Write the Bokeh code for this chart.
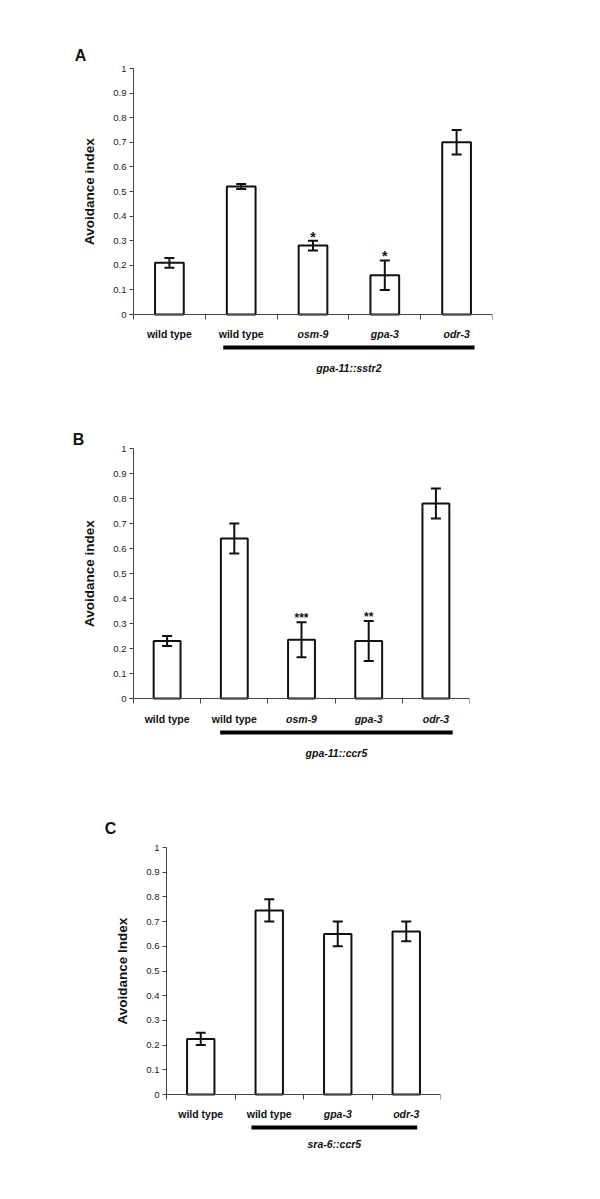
from bokeh.plotting import figure
from bokeh.models import (ColumnDataSource, Whisker, TeeHead, FixedTicker,
                          CustomJSTickFormatter)
from bokeh.layouts import column
from bokeh.embed import file_html
from bokeh.resources import INLINE
from bokeh.core.properties import value

# ---------------- data ----------------
a_labels = ["wild type", "wild type", "osm-9", "gpa-3", "odr-3"]
a_values = [0.21, 0.52, 0.28, 0.16, 0.70]
a_errors = [0.02, 0.01, 0.02, 0.06, 0.05]
a_stars = ["", "", "*", "*", ""]
a_group = "gpa-11::sstr2"
a_ylabel = "Avoidance index"

b_labels = ["wild type", "wild type", "osm-9", "gpa-3", "odr-3"]
b_values = [0.23, 0.64, 0.235, 0.23, 0.78]
b_errors = [0.02, 0.06, 0.07, 0.08, 0.06]
b_stars = ["", "", "***", "**", ""]
b_group = "gpa-11::ccr5"
b_ylabel = "Avoidance index"

c_labels = ["wild type", "wild type", "gpa-3", "odr-3"]
c_values = [0.225, 0.745, 0.65, 0.66]
c_errors = [0.025, 0.045, 0.05, 0.04]
c_stars = ["", "", "", ""]
c_group = "sra-6::ccr5"
c_ylabel = "Avoidance Index"

y_ticks = [0, 0.1, 0.2, 0.3, 0.4, 0.5, 0.6, 0.7, 0.8, 0.9, 1]
y_tick_labels = ["0", "0.1", "0.2", "0.3", "0.4", "0.5", "0.6", "0.7", "0.8", "0.9", "1"]

FONT = "Liberation Sans"
W = 600
INK = "#111111"
AXIS = "#444444"


def panel(letter, labels, values, errors, stars, group, ylabel, L):
    n = len(labels)
    # page-pixel geometry of this panel
    ppx = (L["xend"] - L["axis"]) / n
    ppu = L["y0"] - L["y1"]
    x_start = -(L["axis"] - L["fleft"]) / ppx
    y_start = -(L["fbottom"] - L["y0"]) / ppu
    y_end = 1 + (L["y1"] - L["ftop"]) / ppu

    p = figure(width=W, height=L["h"], x_range=(x_start, n), y_range=(y_start, y_end),
               output_backend="svg", toolbar_location=None, tools="",
               min_border_left=L["fleft"], min_border_right=W - L["xend"],
               min_border_top=L["ftop"] - L["figtop"],
               min_border_bottom=L["figtop"] + L["h"] - L["fbottom"])
    p.frame_align = False
    p.outline_line_color = None
    p.grid.visible = False
    p.background_fill_color = "white"
    p.border_fill_color = "white"

    centers = [i + 0.5 for i in range(n)]
    styles = ["bold" if s == "wild type" else "bold italic" for s in labels]
    src = ColumnDataSource(dict(
        x=centers, top=values, upper=[v + e for v, e in zip(values, errors)],
        lower=[v - e for v, e in zip(values, errors)], label=labels,
        style=styles, star=stars))

    p.vbar(x="x", top="top", bottom=0, width=0.4, source=src,
           fill_color="white", line_color=INK, line_width=2)

    wh = Whisker(base="x", upper="upper", lower="lower", source=src,
                 dimension="height", line_color=INK, line_width=2,
                 upper_head=TeeHead(size=10, line_color=INK, line_width=2),
                 lower_head=TeeHead(size=10, line_color=INK, line_width=2),
                 level="overlay")
    p.add_layout(wh)

    p.text(x="x", y="upper", text="star", source=src, text_align="center",
           text_baseline="middle", y_offset=L["star_off"],
           text_font=value(FONT), text_font_style="bold",
           text_font_size=L["star_fs"], text_color=INK)

    # category labels below the axis
    p.text(x="x", y=0, text="label", source=src, text_align="center",
           text_baseline="middle", y_offset=L["lab_off"],
           text_font=value(FONT), text_font_style="style",
           text_font_size="10.5px", text_color=INK)

    # group underline and its name
    x0, x1 = L["line_x"]
    ly = -L["line_off"] / ppu
    p.segment(x0=[x0], y0=[ly], x1=[x1], y1=[ly], line_color="black", line_width=4)
    p.text(x=[(x0 + x1) / 2], y=[0], text=[group], text_align="center",
           text_baseline="middle", y_offset=L["grp_off"],
           text_font=value(FONT), text_font_style="bold italic",
           text_font_size="10.5px", text_color=INK)

    # panel letter
    lx = (L["letter"][0] - L["axis"]) / ppx
    lyy = 1 + (L["y1"] - L["letter"][1]) / ppu
    p.text(x=[lx], y=[lyy], text=[letter], text_align="center",
           text_baseline="middle", text_font=value(FONT), text_font_style="bold",
           text_font_size="16px", text_color=INK)

    # y axis, fixed at x = 0
    ya = p.yaxis[0]
    ya.fixed_location = 0
    ya.ticker = FixedTicker(ticks=y_ticks)
    ya.major_label_overrides = {t: s for t, s in zip(y_ticks, y_tick_labels)}
    ya.bounds = (0, 1)
    ya.minor_tick_line_color = None
    ya.major_tick_in = 0
    ya.major_tick_out = 4
    ya.major_label_standoff = 3
    ya.major_label_text_font = FONT
    ya.major_label_text_font_size = "9.5px"
    ya.major_label_text_color = "#222222"
    ya.axis_line_color = AXIS
    ya.major_tick_line_color = AXIS
    ya.axis_label = ylabel
    ya.axis_label_text_font = FONT
    ya.axis_label_text_font_style = "bold"
    ya.axis_label_text_font_size = "13.5px"
    ya.axis_label_text_color = INK
    ya.axis_label_standoff = 13

    # x axis, fixed at y = 0, ticks at category boundaries
    xa = p.xaxis[0]
    xa.fixed_location = 0
    xa.bounds = (0, n)
    xa.ticker = FixedTicker(ticks=list(range(n + 1)))
    xa.formatter = CustomJSTickFormatter(code="return ''")
    xa.minor_tick_line_color = None
    xa.major_tick_in = 0
    xa.major_tick_out = 5
    xa.axis_line_color = AXIS
    xa.major_tick_line_color = AXIS
    return p


lay_a = dict(figtop=0, h=408, axis=133, xend=492, fleft=62, ftop=40, y1=68, y0=314,
             fbottom=385, line_x=(1.25, 4.75), lab_off=19, line_off=33, grp_off=53,
             star_off=-4, star_fs="14px", letter=(80, 55))
lay_b = dict(figtop=408, h=392, axis=133, xend=469, fleft=62, ftop=425, y1=448, y0=698,
             fbottom=770, line_x=(1.29, 4.75), lab_off=20, line_off=34, grp_off=54,
             star_off=-4, star_fs="12px", letter=(78, 439))
lay_c = dict(figtop=800, h=399, axis=166, xend=440, fleft=62, ftop=815, y1=847, y0=1094,
             fbottom=1160, line_x=(1.24, 3.66), lab_off=19, line_off=33, grp_off=49,
             star_off=-4, star_fs="14px", letter=(110, 828))

pa = panel("A", a_labels, a_values, a_errors, a_stars, a_group, a_ylabel, lay_a)
pb = panel("B", b_labels, b_values, b_errors, b_stars, b_group, b_ylabel, lay_b)
pc = panel("C", c_labels, c_values, c_errors, c_stars, c_group, c_ylabel, lay_c)

layout = column(pa, pb, pc, spacing=0)
open("out.html", "w").write(file_html(layout, INLINE))
